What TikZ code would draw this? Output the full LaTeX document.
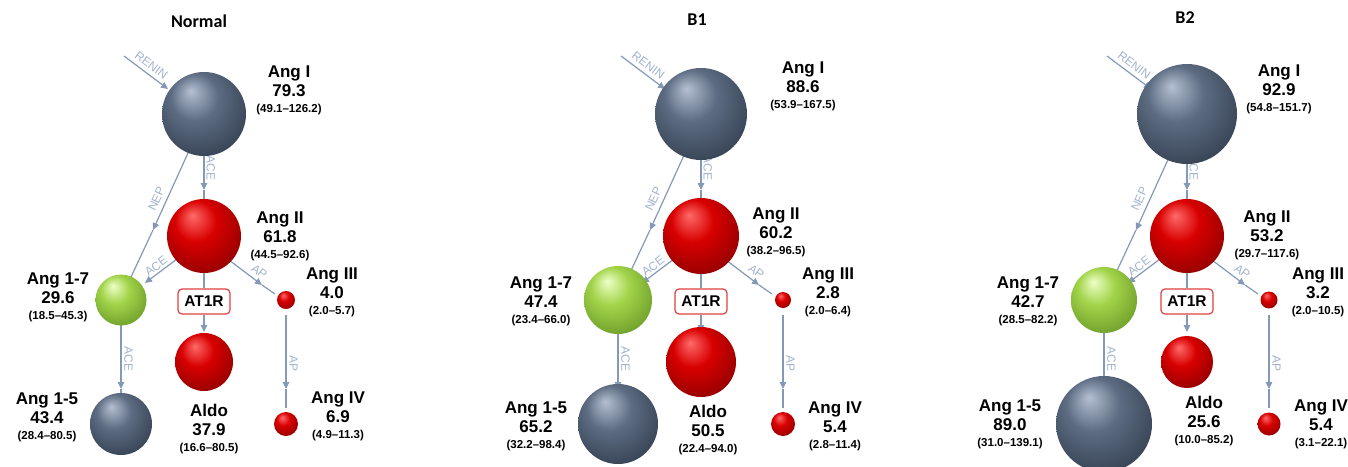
\documentclass[tikz,border=0pt]{standalone}
\usepackage{fontspec}
\setmainfont{Liberation Sans}
\newfontfamily\titlefont{Carlito}
\usetikzlibrary{arrows.meta}

\definecolor{conn}{HTML}{8499B8}
\definecolor{connlbl}{HTML}{A3B4CE}
\definecolor{boxred}{HTML}{E04040}
\definecolor{gH}{HTML}{B4C0D2}
\definecolor{gM}{HTML}{5D6C82}
\definecolor{gO}{HTML}{333F50}
\definecolor{gE}{HTML}{141A22}
\definecolor{rH}{HTML}{FF6A6A}
\definecolor{rM}{HTML}{D80000}
\definecolor{rO}{HTML}{8E0000}
\definecolor{rE}{HTML}{420000}
\definecolor{vH}{HTML}{EEFFC8}
\definecolor{vM}{HTML}{A2D44A}
\definecolor{vO}{HTML}{6A9A28}
\definecolor{vE}{HTML}{34500E}

\pgfdeclareradialshading{grayball}{\pgfqpoint{-8bp}{14bp}}{color(0bp)=(gH); color(14bp)=(gM); color(34bp)=(gO); color(50bp)=(gE)}
\pgfdeclareradialshading{redball}{\pgfqpoint{-8bp}{14bp}}{color(0bp)=(rH); color(14bp)=(rM); color(34bp)=(rO); color(50bp)=(rE)}
\pgfdeclareradialshading{greenball}{\pgfqpoint{-8bp}{14bp}}{color(0bp)=(vH); color(14bp)=(vM); color(34bp)=(vO); color(50bp)=(vE)}

\newcommand\rng{\fontsize{11.5}{19}\selectfont}

\tikzset{
  sph/.style={circle, inner sep=0pt, outer sep=0pt, minimum size=#1},
  gball/.style={sph=#1, shade, shading=grayball},
  rball/.style={sph=#1, shade, shading=redball},
  vball/.style={sph=#1, shade, shading=greenball},
  link/.style={draw=conn, line width=1.2pt},
  arr/.style={link, -{Triangle[length=7pt,width=6.5pt]}},
  elbl/.style={text=connlbl, font=\fontsize{12}{12}\selectfont, inner sep=#1},
  val/.style={align=center, inner sep=0pt, anchor=north, font=\bfseries\fontsize{17}{19}\selectfont},
  at1r/.style={draw=boxred, line width=1.2pt, rounded corners=4pt, fill=white, minimum width=52pt, minimum height=25pt, inner sep=0pt, font=\bfseries\fontsize{15.5}{16}\selectfont},
  ttl/.style={font=\titlefont\bfseries\fontsize{18}{18}\selectfont, inner sep=0pt}
}

\newcommand\raslinks[1]{%
  \coordinate (renS#1) at (124,56);
  \coordinate (renT#1) at (168,89);
  \coordinate (a1S#1) at (204,150);
  \coordinate (a1T#1) at (204,190);
  \coordinate (a1E#1) at (204,205);
  \coordinate (nS#1) at (188,153);
  \coordinate (nT#1) at (153,230);
  \coordinate (nE#1) at (131,277);
  \coordinate (a2S#1) at (181,256);
  \coordinate (a2T#1) at (145,283);
  \coordinate (p1S#1) at (225,257);
  \coordinate (p1T#1) at (262,285);
  \coordinate (p1E#1) at (275,294);
  \coordinate (p2S#1) at (286,315);
  \coordinate (p2T#1) at (286,389);
  \coordinate (p2E#1) at (286,408);
  \coordinate (a3S#1) at (121,322);
  \coordinate (a3T#1) at (121,389);
  \coordinate (a3E#1) at (121,398);
  \coordinate (bxS#1) at (204,265);
  \coordinate (bxT#1) at (204,332);
  \node[at1r] (box#1) at (204,301.5) {AT1R};
  \draw[arr] (renS#1) -- node[pos=0.5, sloped, above, elbl=4pt] {RENIN} (renT#1);
  \draw[arr] (a1S#1) -- node[pos=0.45, rotate=-90, anchor=south, elbl=1.8pt] {ACE} (a1T#1);
  \draw[link] (a1T#1) -- (a1E#1);
  \draw[arr] (nS#1) -- node[pos=0.65, sloped, above, elbl=5pt] {NEP} (nT#1);
  \draw[link] (nT#1) -- (nE#1);
  \draw[arr] (a2S#1) -- node[pos=0.58, sloped, above, elbl=2pt] {ACE} (a2T#1);
  \draw[arr] (p1S#1) -- node[pos=0.78, sloped, above, elbl=4.3pt] {AP} (p1T#1);
  \draw[link] (p1T#1) -- (p1E#1);
  \draw[arr] (p2S#1) -- node[pos=0.65, rotate=-90, anchor=south, elbl=2.7pt] {AP} (p2T#1);
  \draw[link] (p2T#1) -- (p2E#1);
  \draw[arr] (a3S#1) -- node[pos=0.55, rotate=-90, anchor=south, elbl=2.7pt] {ACE} (a3T#1);
  \draw[link] (a3T#1) -- (a3E#1);
  \draw[link] (bxS#1) -- (box#1.north);
  \draw[arr] (box#1.south) -- (bxT#1);
}

\newcommand\rasballs[8]{%
  \node[gball=#2] (angI#1) at (204,114) {};
  \node[rball=#3] (angII#1) at (204,236) {};
  \node[vball=#4] (angOS#1) at (121,300) {};
  \node[rball=#5] (angIII#1) at (286,300) {};
  \node[rball=#6] (aldo#1) at (204,362) {};
  \node[rball=#7] (angIV#1) at (286,424) {};
  \node[gball=#8] (angOF#1) at (121,424) {};
}

\begin{document}
\begin{tikzpicture}[x=1pt, y=-1pt]
\path[use as bounding box, fill=white] (0,0) rectangle (1348,466);

% titles
\node[ttl] (ttlN) at (199,21) {Normal};
\node[ttl] (ttlB) at (697,20) {B1};
\node[ttl] (ttlC) at (1185,18) {B2};

% panels
\begin{scope}
  \raslinks{a}
  \rasballs{a}{84pt}{74pt}{51pt}{18pt}{58pt}{24pt}{62pt}
\end{scope}
\begin{scope}[xshift=497pt]
  \raslinks{b}
  \rasballs{b}{92pt}{76pt}{68pt}{16pt}{70pt}{24pt}{80pt}
\end{scope}
\begin{scope}[xshift=983pt]
  \raslinks{c}
  \rasballs{c}{100pt}{74pt}{66pt}{17pt}{52pt}{23pt}{96pt}
\end{scope}

% Normal labels
\node[val] (tIa)   at (289,66)  {Ang I\\79.3\\[-3pt]{\rng (49.1–126.2)}};
\node[val] (tIIa)  at (280,212) {Ang II\\61.8\\[-3pt]{\rng (44.5–92.6)}};
\node[val] (tOSa)  at (58,273)  {Ang 1-7\\29.6\\[-3pt]{\rng (18.5–45.3)}};
\node[val] (tIIIa) at (332,268) {Ang III\\4.0\\[-3pt]{\rng (2.0–5.7)}};
\node[val] (tALa)  at (209,404) {Aldo\\37.9\\[-3pt]{\rng (16.6–80.5)}};
\node[val] (tIVa)  at (338,392) {Ang IV\\6.9\\[-3pt]{\rng (4.9–11.3)}};
\node[val] (tOFa)  at (47,393)  {Ang 1-5\\43.4\\[-3pt]{\rng (28.4–80.5)}};

% B1 labels
\node[val] (tIb)   at (803,62)  {Ang I\\88.6\\[-3pt]{\rng (53.9–167.5)}};
\node[val] (tIIb)  at (776,208) {Ang II\\60.2\\[-3pt]{\rng (38.2–96.5)}};
\node[val] (tOSb)  at (541,277) {Ang 1-7\\47.4\\[-3pt]{\rng (23.4–66.0)}};
\node[val] (tIIIb) at (828,268) {Ang III\\2.8\\[-3pt]{\rng (2.0–6.4)}};
\node[val] (tALb)  at (708,405) {Aldo\\50.5\\[-3pt]{\rng (22.4–94.0)}};
\node[val] (tIVb)  at (835,402) {Ang IV\\5.4\\[-3pt]{\rng (2.8–11.4)}};
\node[val] (tOFb)  at (536,402) {Ang 1-5\\65.2\\[-3pt]{\rng (32.2–98.4)}};

% B2 labels
\node[val] (tIc)   at (1279,65)  {Ang I\\92.9\\[-3pt]{\rng (54.8–151.7)}};
\node[val] (tIIc)  at (1267,211) {Ang II\\53.2\\[-3pt]{\rng (29.7–117.6)}};
\node[val] (tOSc)  at (1028,277) {Ang 1-7\\42.7\\[-3pt]{\rng (28.5–82.2)}};
\node[val] (tIIIc) at (1318,268) {Ang III\\3.2\\[-3pt]{\rng (2.0–10.5)}};
\node[val] (tALc)  at (1204,396) {Aldo\\25.6\\[-3pt]{\rng (10.0–85.2)}};
\node[val] (tIVc)  at (1321,400) {Ang IV\\5.4\\[-3pt]{\rng (3.1–22.1)}};
\node[val] (tOFc)  at (1010,400) {Ang 1-5\\89.0\\[-3pt]{\rng (31.0–139.1)}};
\end{tikzpicture}
\end{document}
